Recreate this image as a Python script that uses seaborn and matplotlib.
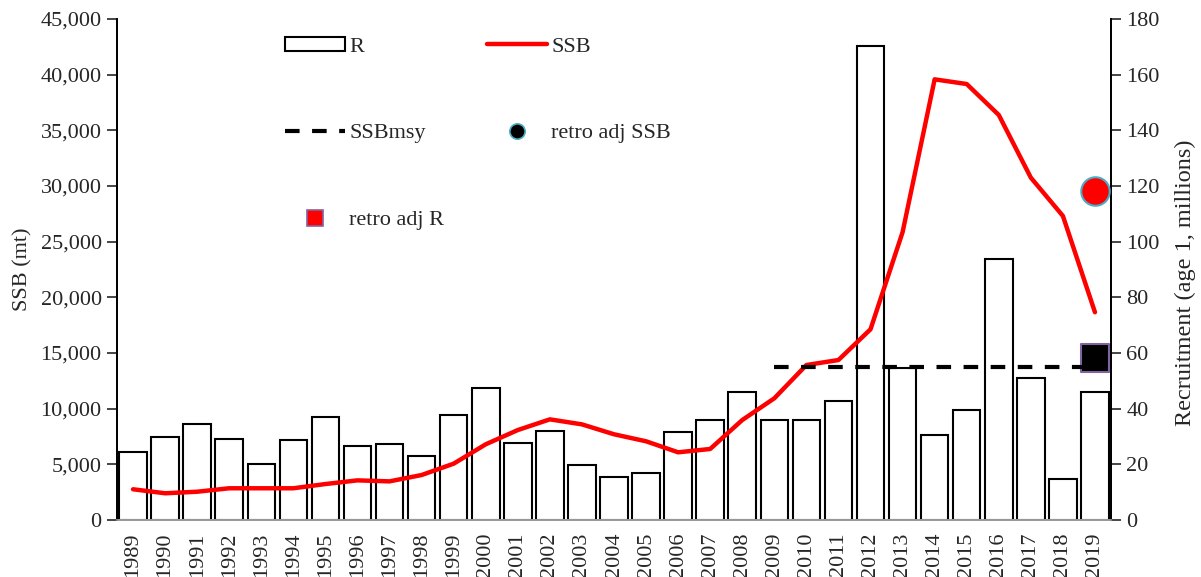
import numpy as np
import pandas as pd
import seaborn as sns
import matplotlib.pyplot as plt
from matplotlib.patches import Patch
from matplotlib.lines import Line2D
from matplotlib.ticker import FuncFormatter, FixedLocator

sns.set_style("white")
plt.rcParams['font.family'] = ['Liberation Serif', 'DejaVu Serif']
plt.rcParams['font.size'] = 16

years = list(range(1989, 2020))
# recruitment, age 1, millions (right axis)
recruits = [24.3, 29.8, 34.4, 29.1, 20.0, 28.6, 37.0, 26.7, 27.2, 23.1,
            37.7, 47.5, 27.7, 32.0, 19.8, 15.5, 16.9, 31.7, 35.8, 45.9,
            36.0, 35.8, 42.8, 170.3, 54.7, 30.5, 39.6, 93.9, 51.0, 14.7, 46.1]
# spawning stock biomass, mt (left axis)
ssb = [2760, 2400, 2540, 2850, 2850, 2850, 3230, 3560, 3470, 4040,
       5060, 6800, 8080, 9040, 8590, 7700, 7070, 6080, 6380, 8980,
       10930, 13920, 14370, 17130, 25850, 39580, 39160, 36380, 30750, 27310, 18660]
ssbmsy = 13740
ssbmsy_years = list(range(2009, 2020))
retro_ssb = 29580
retro_r = 58.3
retro_year = 2019

df = pd.DataFrame({"year": [str(y) for y in years], "R": recruits, "SSB": ssb})
df["pos"] = np.arange(len(df))

fig = plt.figure(figsize=(12.01, 5.77), dpi=100)
ax = fig.add_axes([117/1201, 1 - 520/577, (1111 - 117)/1201, (520 - 19)/577])
ax2 = ax.twinx()
ax.set_zorder(ax2.get_zorder() + 1)
ax.patch.set_visible(False)

# bars on the right axis
sns.barplot(data=df, x="pos", y="R", ax=ax2, color="white", edgecolor="black",
            linewidth=1.5, width=0.86, saturation=1)

# SSB line on left axis
sns.lineplot(data=df, x="pos", y="SSB", ax=ax, color="red", linewidth=3.2)
msy_pos = [years.index(y) for y in ssbmsy_years]
sns.lineplot(x=msy_pos, y=[ssbmsy] * len(msy_pos), ax=ax, color="black",
             linewidth=3, legend=False)
ax.lines[-1].set_dashes([3.5, 3])

ri = years.index(retro_year)
sns.scatterplot(x=[ri], y=[retro_ssb], ax=ax, marker="o", s=420, color="red",
                edgecolor="#4bacc6", linewidth=1.5, zorder=5)
sns.scatterplot(x=[ri], y=[retro_r], ax=ax2, marker="s", s=420, color="black",
                edgecolor="#8064a2", linewidth=1.5, zorder=5)

ax.set_xlim(-0.5, len(years) - 0.5)
ax.set_ylim(0, 45000)
ax.set_yticks(np.arange(0, 45001, 5000))
ax.yaxis.set_major_formatter(FuncFormatter(lambda v, p: f"{int(v):,}"))
ax2.set_ylim(0, 180)
ax2.set_yticks(np.arange(0, 181, 20))

# category boundary ticks, labels at centres
ax.xaxis.set_major_locator(FixedLocator(np.arange(-0.5, len(years), 1)))
ax.xaxis.set_minor_locator(FixedLocator(np.arange(len(years))))
ax.set_xticklabels([], minor=False)
ax.set_xticklabels([str(y) for y in years], minor=True, rotation=90)
ax.tick_params(axis="x", which="major", length=6, width=1.2, color="#999999", direction="out")
ax.tick_params(axis="x", which="minor", length=0, pad=9)
ax2.tick_params(axis="x", which="both", bottom=False, labelbottom=False)
ax.tick_params(axis="y", length=7, width=1.2, direction="out", left=True, pad=4)
ax2.tick_params(axis="y", length=7, width=1.2, direction="out", right=True, pad=4)

ax.set_xlabel("")
ax2.set_xlabel("")
ax.set_ylabel("SSB (mt)", labelpad=6)
ax2.set_ylabel("Recruitment (age 1, millions)", fontsize=17.5)
ax2.yaxis.set_label_coords(1.064, 0.473)

for a in (ax, ax2):
    a.spines["top"].set_visible(False)
    a.spines["left"].set_color("black")
    a.spines["right"].set_color("black")
    a.spines["left"].set_linewidth(1.3)
    a.spines["right"].set_linewidth(1.3)
    a.spines["bottom"].set_color("#999999")
    a.spines["bottom"].set_linewidth(1.3)

handles = [
    Patch(facecolor="white", edgecolor="black", linewidth=1.5),
    Line2D([], [], color="black", linewidth=3, linestyle=(0, (3.5, 3))),
    Line2D([], [], linestyle="none", marker="s", markersize=11,
           markerfacecolor="red", markeredgecolor="#8064a2", markeredgewidth=1.2),
    Line2D([], [], color="red", linewidth=3.2),
    Line2D([], [], linestyle="none", marker="o", markersize=11,
           markerfacecolor="black", markeredgecolor="#4bacc6", markeredgewidth=1.2),
]
labels = ["R", "SSBmsy", "retro adj R", "SSB", "retro adj SSB"]
ax.legend(handles, labels, ncol=2, loc="upper left", frameon=False,
          bbox_to_anchor=(285/1201, 1 - 37/577), bbox_transform=fig.transFigure,
          borderpad=0, borderaxespad=0, handlelength=2.7, handleheight=0.6,
          handletextpad=0.2, labelspacing=3.0, columnspacing=1.9, fontsize=16)

fig.savefig("out.png", dpi=100)
